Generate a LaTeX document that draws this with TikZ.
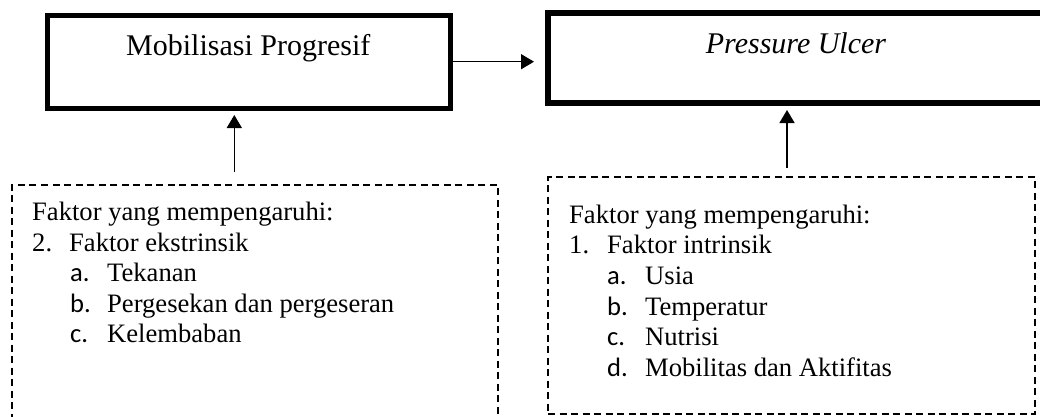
\documentclass[tikz,border=0pt]{standalone}
\usepackage{fontspec}
\setmainfont{Liberation Serif}
\newfontfamily\calib{Carlito}
\usetikzlibrary{arrows.meta}
\begin{document}
\begin{tikzpicture}[x=1pt,y=-1pt,
  thickbox/.style={draw, rectangle, inner sep=0pt},
  dashbox/.style={draw, rectangle, inner sep=0pt, line width=1.5pt, dash pattern=on 7pt off 4.5pt},
  conn/.style={line width=1.5pt, -{Triangle[length=13pt,width=15pt]}},
  title/.style={anchor=base, inner sep=0pt, font=\fontsize{30}{34}\selectfont},
  txt/.style={anchor=base west, inner sep=0pt, font=\fontsize{26.6}{30}\selectfont},
  lbl/.style={anchor=base west, inner sep=0pt, font=\calib\fontsize{26.6}{30}\selectfont}
]
\useasboundingbox (0,0) rectangle (1040,416);
\clip (0,0) rectangle (1040,416);
\fill[white] (0,0) rectangle (1040,416);

% main boxes
\node[thickbox, line width=5pt, minimum width=402.5pt, minimum height=93pt] (b1) at (248.75,62) {};
\node[thickbox, line width=6pt, minimum width=496pt, minimum height=90pt] (b2) at (796,57.5) {};
\node[title] (t1) at (248.3,55) {Mobilisasi Progresif};
\node[title] (t2) at (796,53.3) {\itshape Pressure Ulcer};

% dashed boxes
\node[dashbox, minimum width=486pt, minimum height=260pt] (d1) at (255,315) {};
\node[dashbox, minimum width=487pt, minimum height=237pt] (d2) at (791.5,295.5) {};

% connectors
\coordinate (c1) at (234.3,171.7);
\coordinate (c2) at (787,168);
\draw[conn, shorten >=11pt] (b1.east |- 0,61.7) -- (b2.west |- 0,61.7);
\draw[conn, shorten >=4pt] (c1) -- (b1.south -| c1);
\draw[conn, shorten >=4.5pt] (c2) -- (b2.south -| c2);

% left text
\node[txt] (l0) at (32,220.7) {Faktor yang mempengaruhi:};
\node[txt] (l1n) at (32,251.2) {2.};
\node[txt] (l1) at (69,251.2) {Faktor ekstrinsik};
\node[lbl] (l2n) at (70,281.7) {a.};
\node[txt] (l2) at (107,281.7) {Tekanan};
\node[lbl] (l3n) at (70,312.2) {b.};
\node[txt] (l3) at (107,312.2) {Pergesekan dan pergeseran};
\node[lbl] (l4n) at (70,342.7) {c.};
\node[txt] (l4) at (107,342.7) {Kelembaban};

% right text
\node[txt] (r0) at (569,223.3) {Faktor yang mempengaruhi:};
\node[txt] (r1n) at (569,253.9) {1.};
\node[txt] (r1) at (607,253.9) {Faktor intrinsik};
\node[lbl] (r2n) at (607,284.5) {a.};
\node[txt] (r2) at (645,284.5) {Usia};
\node[lbl] (r3n) at (607,315.1) {b.};
\node[txt] (r3) at (645,315.1) {Temperatur};
\node[lbl] (r4n) at (607,345.7) {c.};
\node[txt] (r4) at (645,345.7) {Nutrisi};
\node[lbl] (r5n) at (607,376.3) {d.};
\node[txt] (r5) at (645,376.3) {Mobilitas dan Aktifitas};
\end{tikzpicture}
\end{document}
